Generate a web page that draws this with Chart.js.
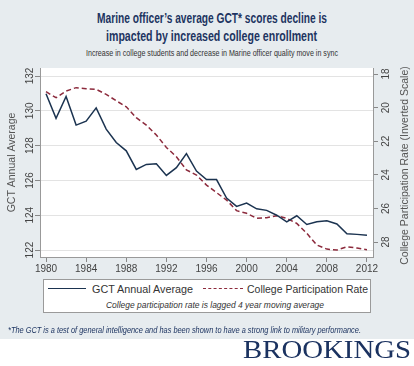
<!DOCTYPE html>
<html><head><meta charset="utf-8">
<script src="https://cdn.jsdelivr.net/npm/chart.js@4.4.1/dist/chart.umd.min.js"></script>
<style>
html,body{margin:0;padding:0;}
body{width:414px;height:366px;background:#e7ecef;position:relative;overflow:hidden;font-family:"Liberation Sans",Arial,sans-serif;}
.abs{position:absolute;white-space:nowrap;}
.fit{display:inline-block;transform-origin:0 50%;}
#t1,#t2{font-family:"Liberation Sans Narrow","Liberation Sans",sans-serif;font-weight:bold;color:#1d3461;font-size:15px;line-height:18px;}
#sub{font-family:"Liberation Sans Narrow","Liberation Sans",sans-serif;color:#333;font-size:9px;line-height:11px;}
#cwrap{position:absolute;left:0;top:60px;width:414px;height:220px;}
#legend{position:absolute;left:43px;top:279px;width:326px;height:32px;background:#fff;border:1px solid #9a9a9a;}
.ltxt{font-size:10.5px;color:#333;line-height:12px;}
#note{font-family:"Liberation Sans Narrow","Liberation Sans",sans-serif;font-style:italic;font-size:9.5px;color:#333;line-height:11px;}
#foot{font-family:"Liberation Sans Narrow","Liberation Sans",sans-serif;font-style:italic;font-size:8.5px;color:#1d3461;line-height:10px;}
#band{position:absolute;left:0;top:339px;width:414px;height:27px;background:#fff;}
#brk{font-family:"Liberation Serif","DejaVu Serif",serif;font-size:25px;color:#1b3260;line-height:26px;}
</style></head>
<body>
<div class="abs" id="t1" style="left:97px;top:9px;"><span class="fit" data-w="230">Marine officer’s average GCT* scores decline is</span></div>
<div class="abs" id="t2" style="left:106px;top:27px;"><span class="fit" data-w="211">impacted by increased college enrollment</span></div>
<div class="abs" id="sub" style="left:86px;top:48px;"><span class="fit" data-w="252">Increase in college students and decrease in Marine officer quality move in sync</span></div>
<div id="cwrap"><canvas id="c" width="414" height="220"></canvas></div>
<div id="legend">
  <div class="abs" style="left:4px;top:8px;width:38px;border-top:1.5px solid #1b3350;"></div>
  <div class="abs ltxt" style="left:48px;top:3px;"><span class="fit" data-w="101">GCT Annual Average</span></div>
  <div class="abs" style="left:159px;top:8px;width:40px;border-top:1.5px dashed #8c2a3c;"></div>
  <div class="abs ltxt" style="left:203px;top:3px;"><span class="fit" data-w="121">College Participation Rate</span></div>
  <div class="abs" id="note" style="left:62px;top:19px;"><span class="fit" data-w="218">College participation rate is lagged 4 year moving average</span></div>
</div>
<div class="abs" id="foot" style="left:8px;top:325px;"><span class="fit" data-w="353">*The GCT is a test of general intelligence and has been shown to have a strong link to military performance.</span></div>
<div id="band"></div>
<div class="abs" id="brk" style="left:243px;top:337px;"><span class="fit" data-w="168">BROOKINGS</span></div>
<script>
// ---- data ----
const years = [1980,1981,1982,1983,1984,1985,1986,1987,1988,1989,1990,1991,1992,1993,1994,1995,1996,1997,1998,1999,2000,2001,2002,2003,2004,2005,2006,2007,2008,2009,2010,2011,2012];
const gctAverage = [130.98,129.57,130.82,129.18,129.41,130.17,128.95,128.18,127.70,126.63,126.92,126.96,126.29,126.73,127.54,126.54,126.05,126.05,124.99,124.51,124.70,124.37,124.28,124.00,123.62,123.97,123.47,123.62,123.68,123.50,122.93,122.90,122.85];
const collegeRate = [19.05,19.41,19.01,18.81,18.87,18.91,19.21,19.59,19.95,20.60,21.04,21.63,22.37,22.92,23.71,24.01,24.61,25.06,25.50,26.13,26.29,26.59,26.55,26.43,26.59,26.89,27.48,28.18,28.42,28.48,28.28,28.36,28.46];
const xTicks = [1980,1984,1988,1992,1996,2000,2004,2008,2012];
const leftTicks = [122,124,126,128,130,132];
const rightTicks = [18,20,22,24,26,28];
const seriesNames = ['GCT Annual Average','College Participation Rate'];
const leftTitle = 'GCT Annual Average';
const rightTitle = 'College Participation Rate (Inverted Scale)';

document.querySelectorAll('.fit').forEach(el=>{
  const w = el.getBoundingClientRect().width;
  el.style.transform = 'scaleX(' + (parseFloat(el.dataset.w)/w) + ')';
});

const setTicks = arr => scale => { scale.ticks = arr.map(v=>({value:v})); };
const tickFont = '10px "Liberation Sans", Arial, sans-serif';
const decor = {
  id:'decor',
  beforeDraw(chart){
    const {ctx, chartArea:a} = chart;
    ctx.save(); ctx.fillStyle='#ffffff';
    ctx.fillRect(a.left,a.top,a.right-a.left,a.bottom-a.top); ctx.restore();
  },
  afterDraw(chart){
    const {ctx, chartArea:a} = chart;
    const yL = chart.scales.y, yR = chart.scales.y2;
    const rot = (txt,x,y,font) => { ctx.save(); ctx.font=font; ctx.translate(x,y); ctx.rotate(-Math.PI/2); ctx.fillText(txt,0,0); ctx.restore(); };
    ctx.save();
    ctx.fillStyle='#444'; ctx.textAlign='center'; ctx.textBaseline='middle';
    leftTicks.forEach(v=>rot(String(v), 30, yL.getPixelForValue(v), tickFont));
    rightTicks.forEach(v=>rot(String(v), 386, yR.getPixelForValue(v), tickFont));
    ctx.fillStyle='#555';
    const cy = (a.top+a.bottom)/2;
    rot(leftTitle, 12, cy, '10.5px "Liberation Sans", Arial, sans-serif');
    rot(rightTitle, 405, cy+3, '10.5px "Liberation Sans", Arial, sans-serif');
    ctx.restore();
  }
};

new Chart(document.getElementById('c'), {
  type:'line',
  data:{
    datasets:[
      {label:seriesNames[0], data:years.map((y,i)=>({x:y,y:gctAverage[i]})), yAxisID:'y',
       borderColor:'#1b3350', borderWidth:1.5, pointRadius:0, tension:0, fill:false},
      {label:seriesNames[1], data:years.map((y,i)=>({x:y,y:collegeRate[i]})), yAxisID:'y2',
       borderColor:'#8c2a3c', borderWidth:1.5, borderDash:[5,3], pointRadius:0, tension:0, fill:false}
    ]
  },
  options:{
    responsive:false, animation:false, devicePixelRatio:1,
    layout:{padding:{top:8,left:0,right:0,bottom:0}},
    plugins:{legend:{display:false}, tooltip:{enabled:false}},
    scales:{
      x:{type:'linear', min:1979.4, max:2012.6, afterBuildTicks:setTicks(xTicks),
         afterFit:s=>{s.height=23;},
         grid:{drawOnChartArea:false, drawTicks:true, tickLength:5, tickColor:'#888'},
         border:{display:true,color:'#999'},
         ticks:{color:'#444', font:{family:'"Liberation Sans", Arial, sans-serif', size:10}, padding:1, maxRotation:0, autoSkip:false, callback:v=>String(v)}},
      y:{position:'left', min:121.6, max:132.46, afterBuildTicks:setTicks(leftTicks),
         afterFit:s=>{s.width=40;},
         grid:{color:'#e3e3e3', drawTicks:true, tickLength:5, tickColor:'#888'},
         border:{display:true,color:'#999'},
         ticks:{display:false}},
      y2:{position:'right', reverse:true, min:17.64, max:28.89, afterBuildTicks:setTicks(rightTicks),
         afterFit:s=>{s.width=41;},
         grid:{drawOnChartArea:false, drawTicks:true, tickLength:5, tickColor:'#888'},
         border:{display:true,color:'#999'},
         ticks:{display:false}}
    }
  },
  plugins:[decor]
});
</script>
</body></html>
